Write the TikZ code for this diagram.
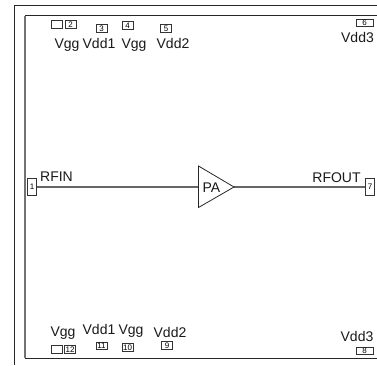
\documentclass[tikz,border=0pt]{standalone}
\usepackage{fontspec}
\setmainfont{Liberation Sans}
\tikzset{
  x=1pt,y=-1pt,
  padbox/.style={draw=black!80,line width=0.8pt,inner sep=0pt,font=\fontsize{8}{8}\selectfont,fill=white},
  hpad/.style={padbox,minimum width=11pt,minimum height=7.5pt},
  wpad/.style={padbox,minimum width=17pt,minimum height=7pt},
  vpad/.style={padbox,minimum width=8.5pt,minimum height=17pt},
  lbl/.style={inner sep=0pt,anchor=base,font=\fontsize{14}{14}\selectfont,text=black!90},
  frameo/.style={draw=black!85,line width=1pt},
  framei/.style={draw=black!85,line width=0.8pt},
  frameg/.style={draw=black!55,line width=1.2pt},
  wire/.style={draw=black!60,line width=1.3pt},
  amp/.style={draw=black!85,line width=0.8pt,line join=miter}
}
\begin{document}
\begin{tikzpicture}
\useasboundingbox (0,0) rectangle (377,365);
\draw[frameo] (14.5,365) -- (14.5,5) -- (377,5);
\draw[framei] (25,15.5) -- (377,15.5);
\draw[framei] (25,358) -- (377,358);
\draw[frameg] (25,15.5) -- (25,358);
% pads
\node[vpad] (p1) at (32,187) {1};
\node[vpad] (p7) at (370,187) {7};
\coordinate (pain) at (198.5,187);
\coordinate (patop) at (198.5,166);
\coordinate (pabot) at (198.5,207.5);
\coordinate (patip) at (234,187);
\draw[wire] (p1) -- (pain);
\draw[wire] (patip) -- (p7);
\draw[amp] (patop) -- (patip) -- (pabot) -- cycle;
\node[lbl] (patext) at (211.5,192) {PA};
\node[hpad] (b0) at (56.5,24.5) {};
\node[hpad] (p2) at (70.5,24.5) {2};
\node[hpad] (p3) at (101.5,28.5) {3};
\node[hpad] (p4) at (127.5,25.5) {4};
\node[hpad] (p5) at (166,28.5) {5};
\node[wpad] (p6) at (364.5,22.5) {6};
\node[wpad] (p8) at (364.5,350.5) {8};
\node[hpad] (b1) at (57,349.5) {};
\node[hpad] (p12) at (70,349.5) {12};
\node[hpad] (p11) at (101.5,346) {11};
\node[hpad] (p10) at (127.5,347.5) {10};
\node[hpad] (p9) at (167,345.5) {9};
% labels
\node[lbl] (t1) at (67,48) {Vgg};
\node[lbl] (t2) at (99,48) {Vdd1};
\node[lbl] (t3) at (134,48) {Vgg};
\node[lbl] (t4) at (173,48) {Vdd2};
\node[lbl] (t5) at (357.5,42) {Vdd3};
\node[lbl] (t6) at (63,336) {Vgg};
\node[lbl] (t7) at (99,334) {Vdd1};
\node[lbl] (t8) at (131,334.5) {Vgg};
\node[lbl] (t9) at (170,337) {Vdd2};
\node[lbl] (t10) at (357,341) {Vdd3};
\node[lbl] (t11) at (56.5,181) {RFIN};
\node[lbl] (t12) at (336.5,182) {RFOUT};
\end{tikzpicture}
\end{document}
